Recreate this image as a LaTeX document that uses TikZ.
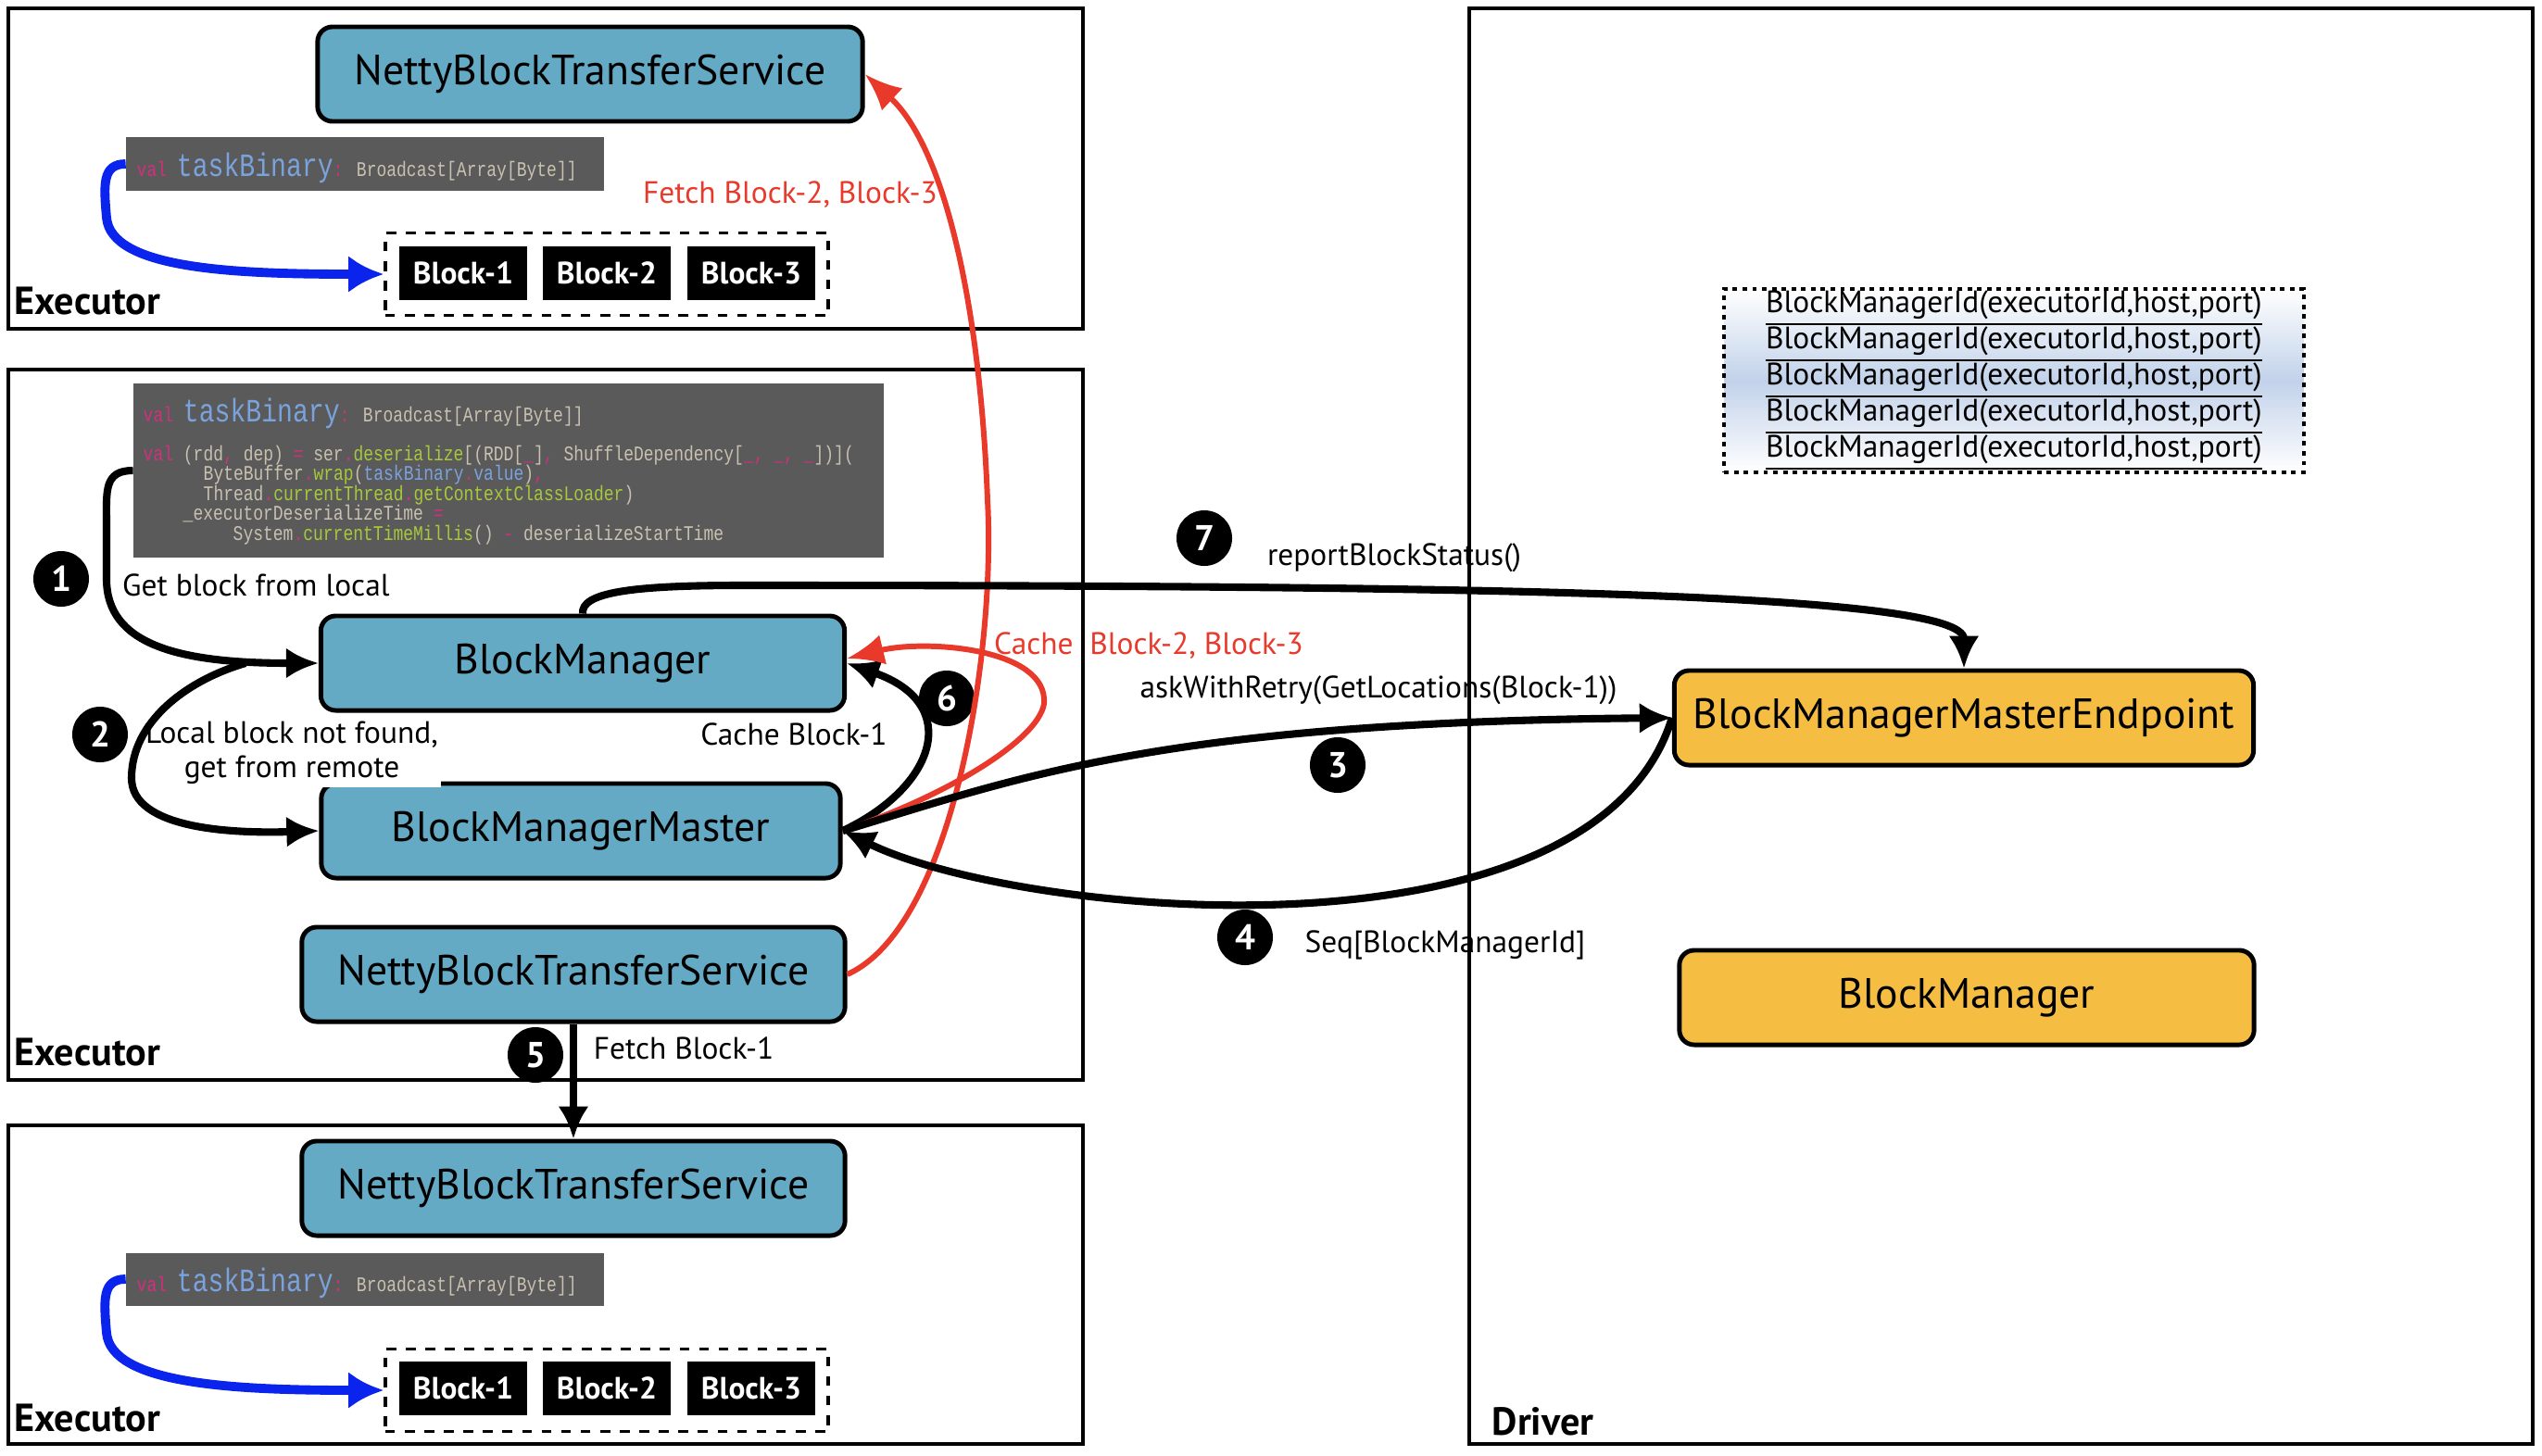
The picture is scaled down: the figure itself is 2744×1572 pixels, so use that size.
\documentclass[tikz,border=0pt]{standalone}
\usepackage{fontspec}
\setmainfont{PT Sans}
\newfontfamily\codefont[FakeStretch=0.8]{Liberation Mono}
\usepackage{xcolor}
\usetikzlibrary{arrows.meta}
\definecolor{compblue}{HTML}{64AAC4}
\definecolor{eporange}{HTML}{F5BE42}
\definecolor{codegray}{HTML}{5A5A5A}
\definecolor{codetext}{HTML}{C9C1B0}
\definecolor{codepink}{HTML}{D0307C}
\definecolor{codegreen}{HTML}{A8C83C}
\definecolor{codeblue}{HTML}{7AA2DC}
\definecolor{fetchred}{HTML}{E8392B}
\definecolor{taskblue}{HTML}{0A24EE}
\definecolor{idblue}{HTML}{C2D2EA}
\newcommand{\ckw}[1]{\textcolor{codepink}{#1}}
\newcommand{\cfn}[1]{\textcolor{codegreen}{#1}}
\newcommand{\cid}[1]{\textcolor{codeblue}{#1}}
\newcommand{\ctb}{{\fontsize{10}{10}\selectfont\color{codeblue}taskBinary}}

\begin{document}
\begin{tikzpicture}[x=0.01cm, y=-0.01cm,
  comp/.style={draw, line width=1.4pt, rounded corners=0.16cm, fill=compblue, minimum height=1.02cm, inner sep=0pt, font=\fontsize{13}{15}\selectfont},
  ep/.style={comp, fill=eporange},
  blk/.style={fill=black, text=white, minimum width=1.37cm, minimum height=0.58cm, inner sep=0pt, font=\bfseries\fontsize{9.5}{11}\selectfont},
  blkbox/.style={draw, dashed, line width=1pt, minimum width=4.78cm, minimum height=0.89cm},
  codebox/.style={fill=codegray, inner sep=0pt},
  src/.style={anchor=base west, inner sep=0pt, text=codetext, font=\codefont\fontsize{6.4}{7}\selectfont},
  num/.style={circle, fill=black, text=white, minimum size=0.6cm, inner sep=0pt, font=\bfseries\fontsize{11}{11}\selectfont},
  lbl/.style={inner sep=1pt, font=\fontsize{9.5}{10.5}\selectfont},
  unit/.style={draw, line width=1.4pt},
  role/.style={anchor=west, inner sep=0pt, font=\bfseries\fontsize{12}{14}\selectfont},
  flow/.style={-{Latex[length=3.5mm,width=3.3mm]}, line width=2.3pt},
  fetch/.style={-{Latex[length=4mm,width=3.3mm]}, line width=1.7pt, fetchred},
  load/.style={-{Latex[length=3.8mm,width=4mm]}, line width=2.8pt, taskblue}]
\useasboundingbox (0,0) rectangle (2744,1572);

\draw[unit] (9,9) rectangle (1169,355);
\draw[unit] (9,399) rectangle (1169,1166);
\draw[unit] (9,1215) rectangle (1169,1559);
\draw[unit] (1586,9) rectangle (2734,1559);

\node(ex1)[role] at (15,325) {Executor};
\node(ex2)[role] at (15,1136) {Executor};
\node(ex3)[role] at (15,1531) {Executor};
\node(drv)[role] at (1610,1535) {Driver};

\node(nbts1)[comp, minimum width=5.88cm] at (637,80) {NettyBlockTransferService};
\node(tb1)[codebox, minimum width=5.15cm, minimum height=0.57cm] at (394,177) {};
\node(tb1t)[src] at (147,190) {\ckw{val} \ctb\ckw{:} Broadcast[Array[Byte]]};
\node(cont1)[blkbox] at (655,296) {};
\node(b11)[blk] at (500,295) {Block-1};
\node(b12)[blk] at (655,295) {Block-2};
\node(b13)[blk] at (811,295) {Block-3};

\node(code2)[codebox, minimum width=8.09cm, minimum height=1.87cm] at (549,508) {};
\node(c21)[src] at (154,455) {\ckw{val} \ctb\ckw{:} Broadcast[Array[Byte]]};
\node(c22)[src] at (154,497) {\ckw{val} (rdd\ckw{,} dep) \ckw{=} ser\ckw{.}\cfn{deserialize}[(RDD[\ckw{\_}]\ckw{,} ShuffleDependency[\ckw{\_}\ckw{,} \ckw{\_}\ckw{,} \ckw{\_}])](};
\node(c23)[src] at (219,518) {ByteBuffer\ckw{.}\cfn{wrap}(\cid{taskBinary}\ckw{.}\cid{value})\ckw{,}};
\node(c24)[src] at (219,540) {Thread\ckw{.}\cfn{currentThread}\ckw{.}\cfn{getContextClassLoader})};
\node(c25)[src] at (197,561) {\_executorDeserializeTime \ckw{=}};
\node(c26)[src] at (251,583) {System\ckw{.}\cfn{currentTimeMillis}() \ckw{-} deserializeStartTime};

\node(bm)[comp, minimum width=5.65cm] at (629,716) {BlockManager};
\node(bmm)[comp, minimum width=5.6cm] at (627,897) {BlockManagerMaster};
\node(nbts2)[comp, minimum width=5.86cm] at (619,1052) {NettyBlockTransferService};

\node(nbts3)[comp, minimum width=5.86cm] at (619,1283) {NettyBlockTransferService};
\node(tb3)[codebox, minimum width=5.15cm, minimum height=0.57cm] at (394,1381) {};
\node(tb3t)[src] at (147,1394) {\ckw{val} \ctb\ckw{:} Broadcast[Array[Byte]]};
\node(cont3)[blkbox] at (655,1501) {};
\node(b31)[blk] at (500,1499) {Block-1};
\node(b32)[blk] at (655,1499) {Block-2};
\node(b33)[blk] at (811,1499) {Block-3};

\node(ids)[draw, dash pattern=on 1.4pt off 1.6pt, line width=1.2pt, top color=white, bottom color=white, middle color=idblue, minimum width=6.25cm, minimum height=1.98cm, align=center, inner sep=0pt, font=\fontsize{9.5}{11.1}\selectfont] at (2174,411) {\underline{BlockManagerId(executorId,host,port)}\\\underline{BlockManagerId(executorId,host,port)}\\\underline{BlockManagerId(executorId,host,port)}\\\underline{BlockManagerId(executorId,host,port)}\\\underline{BlockManagerId(executorId,host,port)}};
\node(bmme)[ep, minimum width=6.25cm] at (2120,775) {BlockManagerMasterEndpoint};
\node(bm2)[ep, minimum width=6.2cm] at (2123,1077) {BlockManager};

\node(n1)[num] at (66,625) {1};
\node(n2)[num] at (108,793) {2};
\node(n3)[num] at (1444,826) {3};
\node(n4)[num] at (1344,1012) {4};
\node(n5)[num] at (578,1139) {5};
\node(n6)[num] at (1022,754) {6};
\node(n7)[num] at (1300,581) {7};

\node(l1)[lbl, anchor=west] at (128,632) {Get block from local};
\node(l2)[lbl, align=center, fill=white] at (315,813) {Local block not found,\\get from remote};
\node(l6)[lbl] at (857,793) {Cache Block-1};
\node(l5)[lbl] at (738,1132) {Fetch Block-1};
\node(lf)[lbl, text=fetchred] at (853,210) {Fetch Block-2, Block-3};
\node(lc)[lbl, text=fetchred] at (1240,697) {Cache\ \ Block-2, Block-3};
\node(l7)[lbl] at (1505,602) {reportBlockStatus()};
\node(l3)[lbl] at (1488,745) {askWithRetry(GetLocations(Block-1))};
\node(l4)[lbl] at (1560,1020) {Seq[BlockManagerId]};

\coordinate (fork) at (265,716);

\draw[load] (tb1.west) .. controls (110,177) and (112,200) .. (115,235) .. controls (120,290) and (250,296) .. (cont1.west);
\draw[load] (tb3.west) .. controls (110,1381) and (112,1404) .. (115,1439) .. controls (120,1494) and (250,1501) .. (cont3.west);
\draw[flow] (code2.west) .. controls (112,508) and (115,530) .. (115,565) -- (115,625) .. controls (115,695) and (190,716) .. (bm.west);
\draw[flow] (fork) .. controls (200,735) and (142,780) .. (142,840) .. controls (142,895) and (250,900) .. (bmm.west);
\draw[flow] (bmm.east) .. controls (1010,850) and (1040,760) .. (bm.east);
\draw[fetch] (bmm.east) .. controls (1020,860) and (1120,800) .. (1127,760) .. controls (1132,700) and (1000,690) .. ([yshift=0.05cm]bm.east);
\draw[fetch] (nbts2.east) .. controls (1030,1000) and (1075,700) .. (1066,540) .. controls (1058,330) and (1020,160) .. (nbts1.east);
\draw[flow] (bm.north) .. controls (627,640) and (680,632) .. (800,632) .. controls (1600,632) and (2120,640) .. (bmme.north);
\draw[flow] (bmm.east) .. controls (1100,840) and (1250,780) .. (bmme.west);
\draw[flow] (bmme.west) .. controls (1720,1050) and (1100,990) .. (bmm.east);
\draw[flow] (nbts2.south) -- (nbts3.north);
\end{tikzpicture}
\end{document}
